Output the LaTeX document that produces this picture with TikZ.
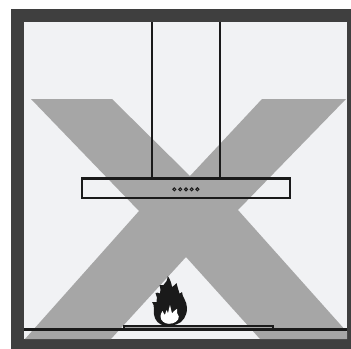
\documentclass[tikz,border=0pt]{standalone}
\usepackage{xcolor}
\definecolor{hoodFrame}{HTML}{3F3F3F}
\definecolor{hoodWall}{HTML}{F1F2F4}
\definecolor{hoodCross}{HTML}{A6A6A6}
\definecolor{hoodLine}{HTML}{1A1A1A}
\begin{document}
\begin{tikzpicture}[
    x=0.1cm, y=-0.1cm,
    outline/.style={draw=hoodLine, line width=0.27cm},
    knob/.style={draw=hoodLine, line width=0.1cm, fill=hoodCross}
  ]
    \useasboundingbox (0,0) rectangle (351,349);
    \fill[white] (0,0) rectangle (351,349);
    % room
    \fill[hoodFrame] (11,9) rectangle (351,349);
    \fill[hoodWall] (24,22) rectangle (347,339);
    % cross
    \fill[hoodCross] (31,99) -- (112,99) -- (190,176) -- (262,99) -- (346,99) -- (238,210)
      -- (347,332) -- (347,339) -- (260,339) -- (186,257) -- (111,339) -- (25,339)
      -- (139,211) -- cycle;
    % hood
    \draw[outline] (152,22) -- (152,178);
    \draw[outline] (220,22) -- (220,178);
    \draw[outline] (82,178.5) rectangle (290,198);
    \draw[knob] (174.3,189.3) circle (1.5);
    \draw[knob] (180.2,189.3) circle (1.5);
    \draw[knob] (186,189.3) circle (1.5);
    \draw[knob] (191.7,189.3) circle (1.5);
    \draw[knob] (197.4,189.3) circle (1.5);
    % hob
    \draw[outline] (24,329.5) -- (347,329.5);
    \draw[outline, line width=0.2cm, fill=hoodCross] (124,325.5) rectangle (273,329);
    % flame
    \fill[hoodLine] (167.7,276) .. controls (170,279) and (171.5,283) .. (172,287)
      .. controls (173.5,286) and (175,285) .. (176.5,283)
      .. controls (177.5,287) and (178.5,290) .. (179.5,293.5)
      .. controls (180,293.5) and (181,293) .. (182,292)
      .. controls (182,297) and (187,301) .. (187,308)
      .. controls (187,316) and (183,322.5) .. (176,324.5)
      .. controls (171,326) and (165,326) .. (161,324.5)
      .. controls (155.5,322) and (153,316) .. (154,309)
      .. controls (154,306) and (153.5,304) .. (152,302)
      .. controls (154,301.5) and (155,301.5) .. (156.5,302)
      .. controls (157.5,299) and (157,296) .. (155.5,293)
      .. controls (157,292.5) and (158.5,292.5) .. (160,293.5)
      .. controls (161,291) and (160.5,288) .. (159.5,285)
      .. controls (161,284.5) and (162,284.5) .. (163.5,285)
      .. controls (166,283) and (167.5,280) .. (167.7,276) -- cycle;
    \fill[white] (169,323.8) .. controls (165,323.8) and (160.5,321) .. (160.5,316.5)
      .. controls (160.5,315) and (161,313) .. (162.5,311)
      .. controls (163.5,313) and (164,314) .. (165,315)
      .. controls (165.3,313) and (166,311.5) .. (166.8,310)
      .. controls (167.5,311.5) and (167.8,312.5) .. (168,313.5)
      .. controls (168.5,311) and (169,308) .. (170,305)
      .. controls (170.5,308) and (171.5,311) .. (172,313.5)
      .. controls (173,312) and (174.5,310.5) .. (177,308.8)
      .. controls (176.5,312) and (177,314) .. (178.8,316.5)
      .. controls (179,321) and (174,323.8) .. (169,323.8) -- cycle;
  \end{tikzpicture}
\end{document}
